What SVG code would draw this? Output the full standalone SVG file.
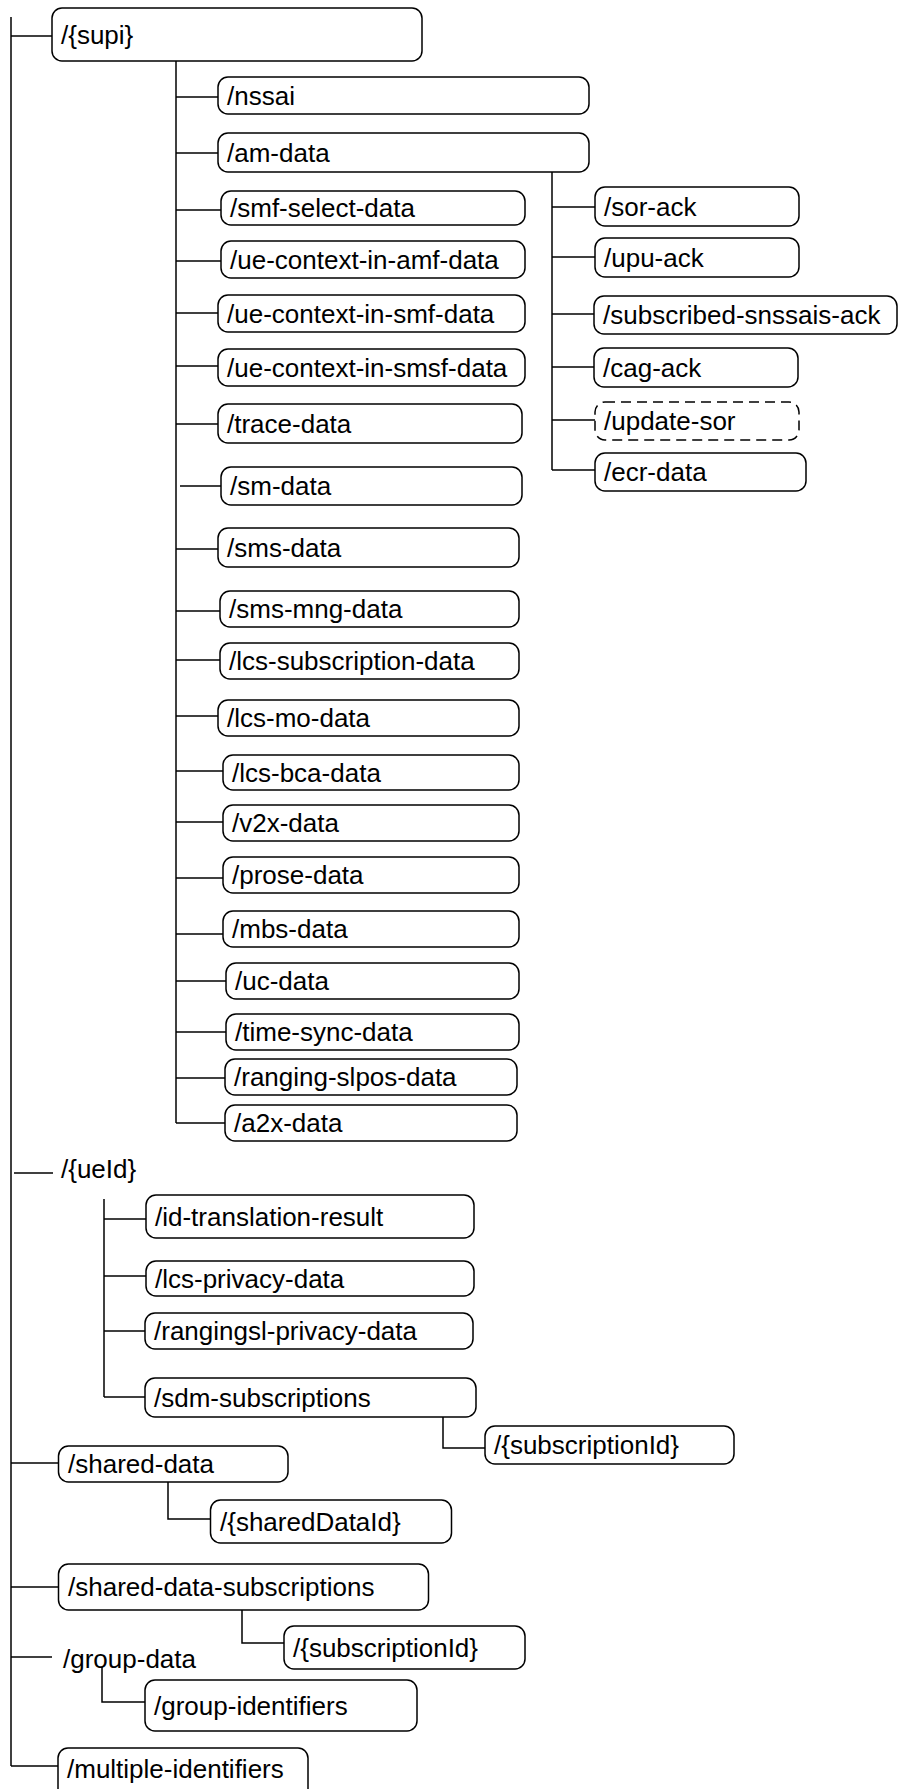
<svg xmlns="http://www.w3.org/2000/svg" width="898" height="1789" viewBox="0 0 898 1789">
<style>
.box{fill:#fff;stroke:#000;stroke-width:1.5}
.dash{stroke-dasharray:10 6}
.lbl{font-family:"Liberation Sans",Arial,sans-serif;font-size:26px;fill:#000}
.conn{stroke:#000;stroke-width:1.5;fill:none}
</style>
<rect width="898" height="1789" fill="#fff"/>
<g id="connectors" class="conn">
<path d="M11,17 V1766"/>
<path d="M11,36 H52"/>
<path d="M14,1173 H53"/>
<path d="M11,1463 H58.5"/>
<path d="M11,1587 H58.5"/>
<path d="M11,1657 H52"/>
<path d="M11,1766 H58"/>
<path d="M176,61 V1123"/>
<path d="M176,97 H218"/>
<path d="M176,153 H218"/>
<path d="M176,210 H221"/>
<path d="M176,261 H221"/>
<path d="M176,313 H218"/>
<path d="M176,366 H218"/>
<path d="M176,424 H218"/>
<path d="M180,486 H221"/>
<path d="M176,549 H218"/>
<path d="M176,611 H220"/>
<path d="M176,660 H220"/>
<path d="M176,716 H218"/>
<path d="M176,771 H223"/>
<path d="M176,822 H223"/>
<path d="M176,878 H223"/>
<path d="M176,934 H223"/>
<path d="M176,981 H226"/>
<path d="M176,1032 H226"/>
<path d="M176,1078 H225"/>
<path d="M176,1123 H225"/>
<path d="M552,172 V470"/>
<path d="M552,207 H595"/>
<path d="M552,257 H595"/>
<path d="M552,314 H594"/>
<path d="M552,367 H594"/>
<path d="M552,420 H595"/>
<path d="M552,470 H595"/>
<path d="M104,1199 V1397"/>
<path d="M104,1219 H146"/>
<path d="M104,1276 H146"/>
<path d="M104,1331 H145"/>
<path d="M104,1397 H145"/>
<path d="M443,1417 V1448 H485"/>
<path d="M168,1482 V1519 H210.5"/>
<path d="M242,1610 V1643 H284"/>
<path d="M102,1667 V1702 H145"/>
</g>
<g id="supi"><rect class="box" x="52" y="8" width="370" height="53" rx="10"/><text class="lbl" x="61" y="43.5">/{supi}</text></g>
<g id="nssai"><rect class="box" x="218" y="77" width="371" height="37" rx="10"/><text class="lbl" x="227" y="104.5">/nssai</text></g>
<g id="am-data"><rect class="box" x="218" y="133" width="371" height="39" rx="10"/><text class="lbl" x="227" y="161.5">/am-data</text></g>
<g id="smf-select-data"><rect class="box" x="221" y="191" width="304" height="34" rx="10"/><text class="lbl" x="230" y="217">/smf-select-data</text></g>
<g id="ue-context-in-amf-data"><rect class="box" x="221" y="241" width="304" height="37" rx="10"/><text class="lbl" x="230" y="268.5">/ue-context-in-amf-data</text></g>
<g id="ue-context-in-smf-data"><rect class="box" x="218" y="295" width="307" height="37" rx="10"/><text class="lbl" x="227" y="322.5">/ue-context-in-smf-data</text></g>
<g id="ue-context-in-smsf-data"><rect class="box" x="218" y="349" width="307" height="37" rx="10"/><text class="lbl" x="227" y="376.5">/ue-context-in-smsf-data</text></g>
<g id="trace-data"><rect class="box" x="218" y="404" width="304" height="39" rx="10"/><text class="lbl" x="227" y="432.5">/trace-data</text></g>
<g id="sm-data"><rect class="box" x="221" y="467" width="301" height="38" rx="10"/><text class="lbl" x="230" y="495">/sm-data</text></g>
<g id="sms-data"><rect class="box" x="218" y="528" width="301" height="39" rx="10"/><text class="lbl" x="227" y="556.5">/sms-data</text></g>
<g id="sms-mng-data"><rect class="box" x="220" y="591" width="299" height="36" rx="10"/><text class="lbl" x="229" y="618">/sms-mng-data</text></g>
<g id="lcs-subscription-data"><rect class="box" x="220" y="643" width="299" height="36" rx="10"/><text class="lbl" x="229" y="670">/lcs-subscription-data</text></g>
<g id="lcs-mo-data"><rect class="box" x="218" y="700" width="301" height="36" rx="10"/><text class="lbl" x="227" y="727">/lcs-mo-data</text></g>
<g id="lcs-bca-data"><rect class="box" x="223" y="755" width="296" height="35" rx="10"/><text class="lbl" x="232" y="781.5">/lcs-bca-data</text></g>
<g id="v2x-data"><rect class="box" x="223" y="805" width="296" height="36" rx="10"/><text class="lbl" x="232" y="832">/v2x-data</text></g>
<g id="prose-data"><rect class="box" x="223" y="857" width="296" height="36" rx="10"/><text class="lbl" x="232" y="884">/prose-data</text></g>
<g id="mbs-data"><rect class="box" x="223" y="911" width="296" height="36" rx="10"/><text class="lbl" x="232" y="938">/mbs-data</text></g>
<g id="uc-data"><rect class="box" x="226" y="963" width="293" height="36" rx="10"/><text class="lbl" x="235" y="990">/uc-data</text></g>
<g id="time-sync-data"><rect class="box" x="226" y="1014" width="293" height="36" rx="10"/><text class="lbl" x="235" y="1041">/time-sync-data</text></g>
<g id="ranging-slpos-data"><rect class="box" x="225" y="1059" width="292" height="36" rx="10"/><text class="lbl" x="234" y="1086">/ranging-slpos-data</text></g>
<g id="a2x-data"><rect class="box" x="225" y="1105" width="292" height="36" rx="10"/><text class="lbl" x="234" y="1132">/a2x-data</text></g>
<g id="sor-ack"><rect class="box" x="595" y="187" width="204" height="39" rx="10"/><text class="lbl" x="604" y="215.5">/sor-ack</text></g>
<g id="upu-ack"><rect class="box" x="595" y="238" width="204" height="39" rx="10"/><text class="lbl" x="604" y="266.5">/upu-ack</text></g>
<g id="subscribed-snssais-ack"><rect class="box" x="594" y="296" width="303" height="38" rx="10"/><text class="lbl" x="603" y="324">/subscribed-snssais-ack</text></g>
<g id="cag-ack"><rect class="box" x="594" y="348" width="204" height="39" rx="10"/><text class="lbl" x="603" y="376.5">/cag-ack</text></g>
<g id="update-sor"><rect class="box dash" x="595" y="402" width="204" height="38" rx="10"/><text class="lbl" x="604" y="430">/update-sor</text></g>
<g id="ecr-data"><rect class="box" x="595" y="453" width="211" height="38" rx="10"/><text class="lbl" x="604" y="481">/ecr-data</text></g>
<g id="ueId"><text class="lbl" x="61" y="1178">/{ueId}</text></g>
<g id="id-translation-result"><rect class="box" x="146" y="1195" width="328" height="43" rx="10"/><text class="lbl" x="155" y="1225.5">/id-translation-result</text></g>
<g id="lcs-privacy-data"><rect class="box" x="146" y="1261" width="328" height="35" rx="10"/><text class="lbl" x="155" y="1287.5">/lcs-privacy-data</text></g>
<g id="rangingsl-privacy-data"><rect class="box" x="145" y="1313" width="328" height="36" rx="10"/><text class="lbl" x="154" y="1340">/rangingsl-privacy-data</text></g>
<g id="sdm-subscriptions"><rect class="box" x="145" y="1378" width="331" height="39" rx="10"/><text class="lbl" x="154" y="1406.5">/sdm-subscriptions</text></g>
<g id="sdm-subscriptionId"><rect class="box" x="485" y="1426" width="249" height="38" rx="10"/><text class="lbl" x="494" y="1454">/{subscriptionId}</text></g>
<g id="shared-data"><rect class="box" x="58.5" y="1446" width="229.5" height="36" rx="10"/><text class="lbl" x="68" y="1473">/shared-data</text></g>
<g id="sharedDataId"><rect class="box" x="210.5" y="1500" width="241" height="43" rx="10"/><text class="lbl" x="220" y="1530.5">/{sharedDataId}</text></g>
<g id="shared-data-subscriptions"><rect class="box" x="58.5" y="1564" width="370" height="46" rx="10"/><text class="lbl" x="68" y="1596">/shared-data-subscriptions</text></g>
<g id="shared-subscriptionId"><rect class="box" x="284" y="1626" width="241" height="43" rx="10"/><text class="lbl" x="293" y="1656.5">/{subscriptionId}</text></g>
<g id="group-data"><text class="lbl" x="63" y="1668">/group-data</text></g>
<g id="group-identifiers"><rect class="box" x="145" y="1680" width="272" height="51" rx="10"/><text class="lbl" x="154" y="1714.5">/group-identifiers</text></g>
<g id="multiple-identifiers"><rect class="box" x="58" y="1748" width="250" height="60" rx="10"/><text class="lbl" x="67" y="1778">/multiple-identifiers</text></g>
</svg>
